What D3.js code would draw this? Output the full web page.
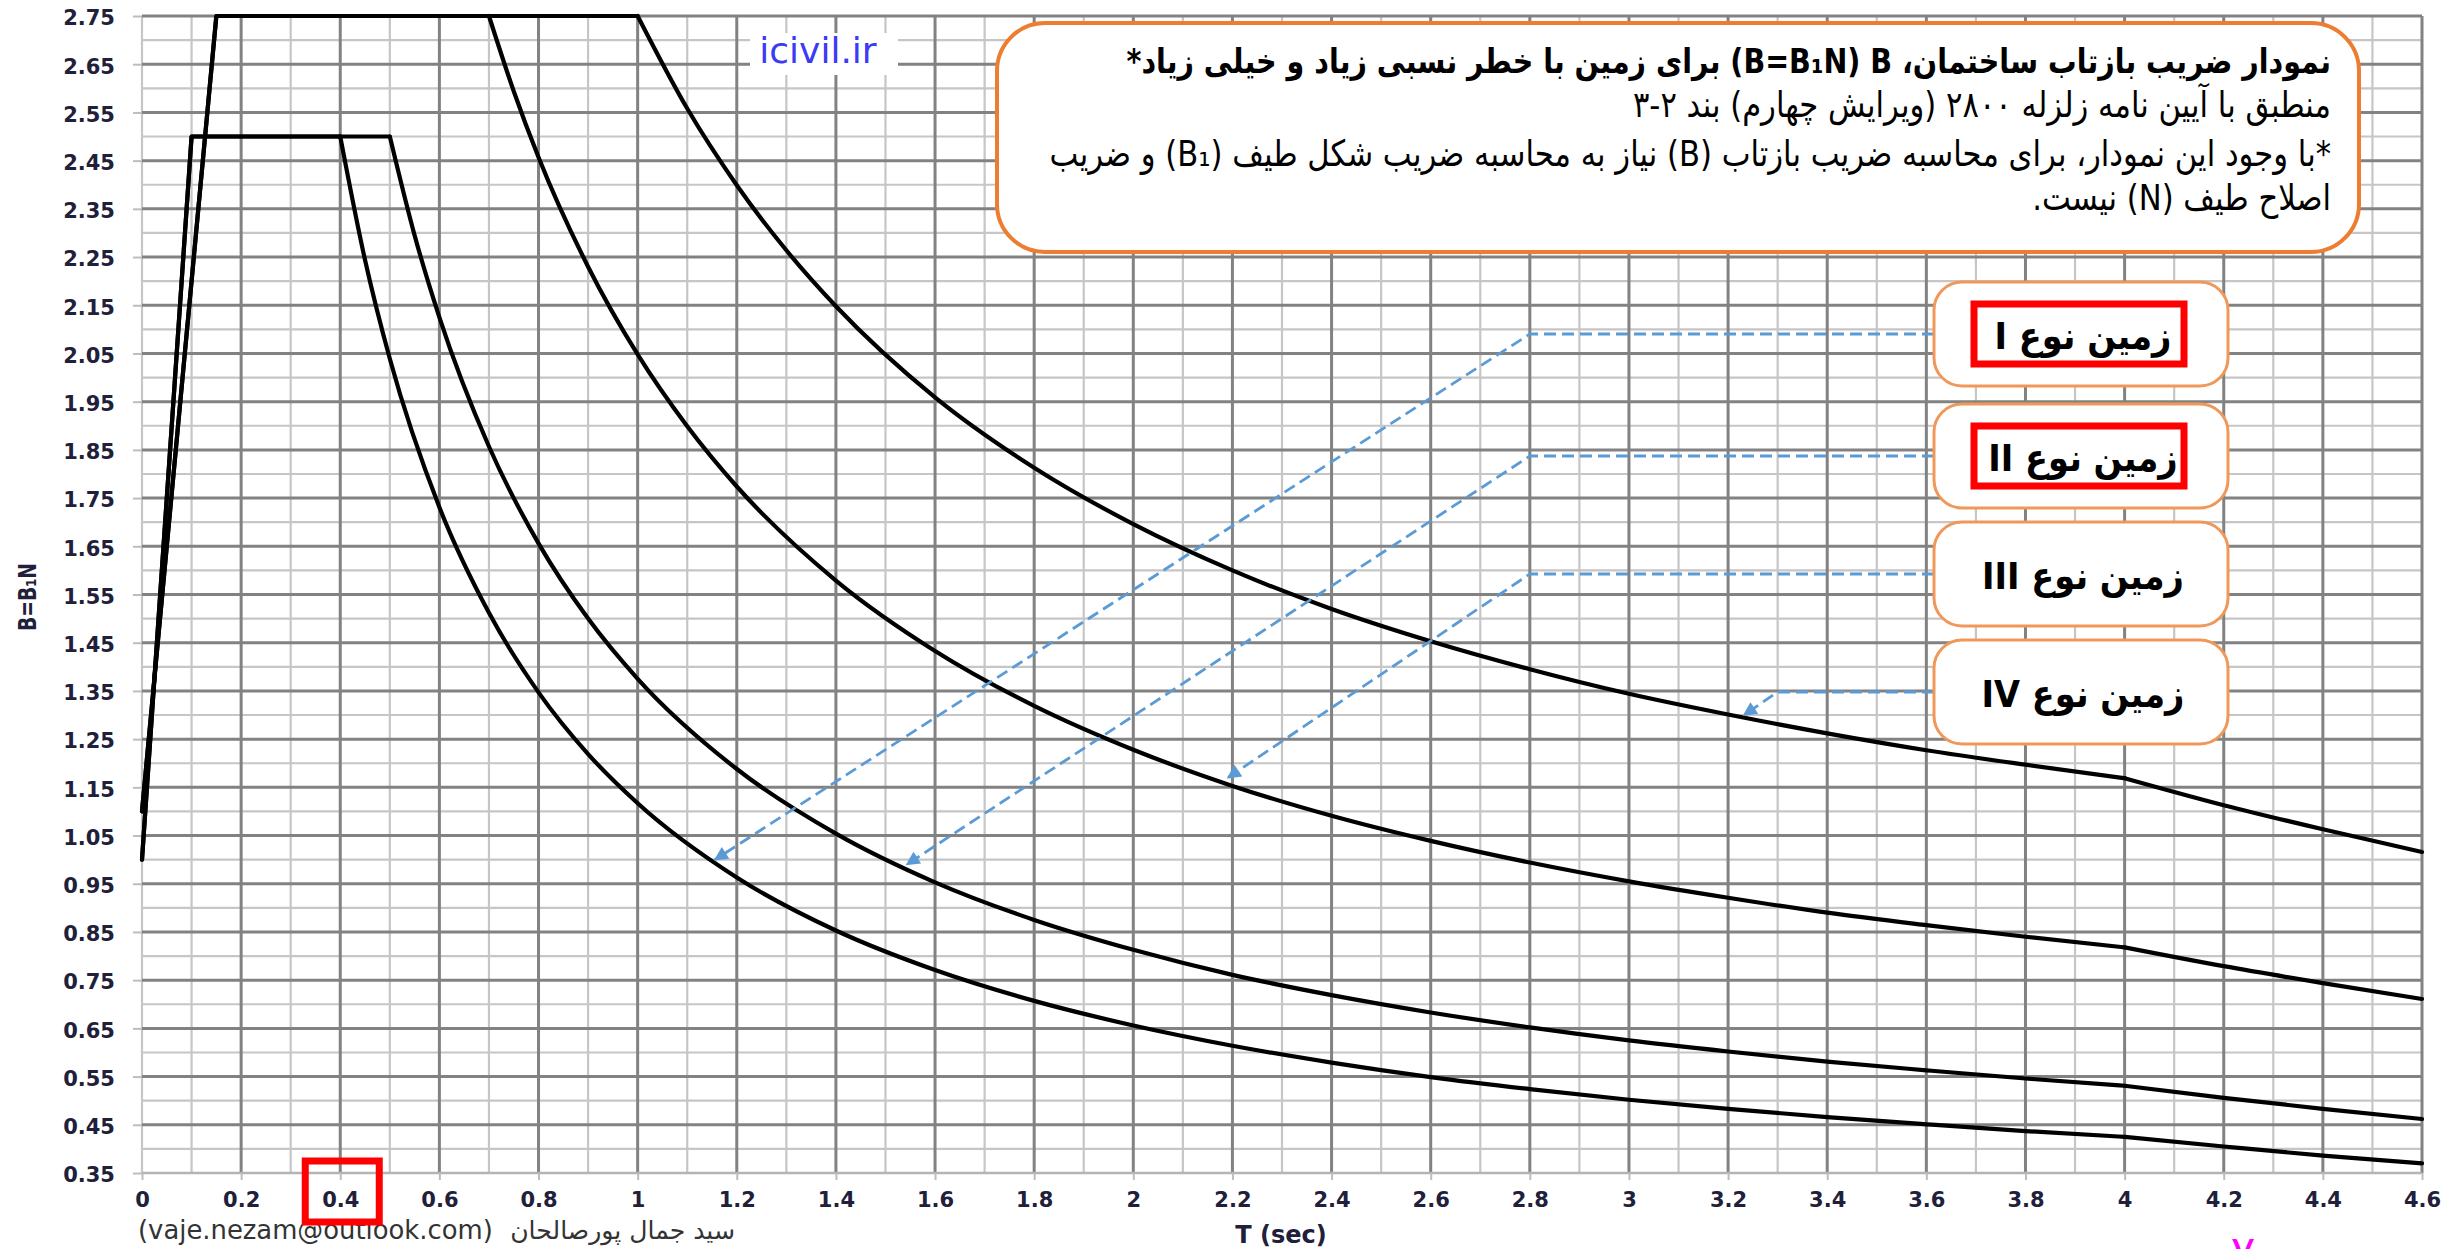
<!DOCTYPE html>
<html><head><meta charset="utf-8">
<script src="https://cdn.jsdelivr.net/npm/d3@7"></script>
<style>html,body{margin:0;padding:0;background:#fff;} svg{display:block;}</style>
</head><body>
<svg id="chart" width="2453" height="1249"></svg>
<script>
// ---------------- DATA ----------------
const T_I  = [0, 0.1, 0.4, 0.45, 0.5, 0.6, 0.7, 0.8, 0.9, 1.0, 1.2, 1.4, 1.6, 1.8, 2.0, 2.2, 2.4, 2.6, 2.8, 3.0, 3.2, 3.4, 3.6, 3.8, 4.0, 4.2, 4.4, 4.6];
const B_I  = [1.0, 2.5, 2.5, 2.244, 2.039, 1.731, 1.512, 1.347, 1.219, 1.117, 0.963, 0.853, 0.771, 0.707, 0.656, 0.614, 0.579, 0.549, 0.524, 0.502, 0.483, 0.466, 0.451, 0.437, 0.425, 0.405, 0.386, 0.370];
const T_II = [0, 0.1, 0.5, 0.55, 0.6, 0.7, 0.8, 0.9, 1.0, 1.2, 1.4, 1.6, 1.8, 2.0, 2.2, 2.4, 2.6, 2.8, 3.0, 3.2, 3.4, 3.6, 3.8, 4.0, 4.2, 4.4, 4.6];
const B_II = [1.0, 2.5, 2.5, 2.295, 2.125, 1.857, 1.656, 1.500, 1.375, 1.188, 1.054, 0.953, 0.875, 0.813, 0.761, 0.719, 0.683, 0.652, 0.625, 0.602, 0.581, 0.563, 0.546, 0.531, 0.506, 0.483, 0.462];
const T_III = [0, 0.15, 0.7, 0.75, 0.8, 0.9, 1.0, 1.1, 1.2, 1.4, 1.6, 1.8, 2.0, 2.2, 2.4, 2.6, 2.8, 3.0, 3.2, 3.4, 3.6, 3.8, 4.0, 4.2, 4.4, 4.6];
const B_III = [1.1, 2.75, 2.75, 2.594, 2.457, 2.230, 2.048, 1.899, 1.774, 1.579, 1.433, 1.319, 1.228, 1.153, 1.091, 1.039, 0.994, 0.955, 0.921, 0.890, 0.864, 0.840, 0.818, 0.779, 0.744, 0.711];
const T_IV = [0, 0.15, 1.0, 1.1, 1.2, 1.3, 1.4, 1.6, 1.8, 2.0, 2.2, 2.4, 2.6, 2.8, 3.0, 3.2, 3.4, 3.6, 3.8, 4.0, 4.2, 4.4, 4.6];
const B_IV = [1.1, 2.75, 2.75, 2.558, 2.399, 2.264, 2.148, 1.959, 1.813, 1.696, 1.600, 1.520, 1.453, 1.395, 1.344, 1.301, 1.262, 1.227, 1.197, 1.169, 1.113, 1.063, 1.016];

const xTickValues = [0, 0.2, 0.4, 0.6, 0.8, 1, 1.2, 1.4, 1.6, 1.8, 2, 2.2, 2.4, 2.6, 2.8, 3, 3.2, 3.4, 3.6, 3.8, 4, 4.2, 4.4, 4.6];
const yTickValues = [0.35, 0.45, 0.55, 0.65, 0.75, 0.85, 0.95, 1.05, 1.15, 1.25, 1.35, 1.45, 1.55, 1.65, 1.75, 1.85, 1.95, 2.05, 2.15, 2.25, 2.35, 2.45, 2.55, 2.65, 2.75];

const soilLabels = ['زمین نوع I', 'زمین نوع II', 'زمین نوع III', 'زمین نوع IV'];
// arrow tips (data coordinates) and bend T of each leader
const arrowTipT = [1.156, 1.543, 2.191, 3.232];
const arrowTipB = [1.00, 0.99, 1.17, 1.30];
const bendT = [2.8, 2.8, 2.8, 3.3];

const titleLines = [
  'نمودار ضریب بازتاب ساختمان، B\u200F (B=B₁N) برای زمین با خطر نسبی زیاد و خیلی زیاد*',
  'منطبق با آیین نامه زلزله ۲۸۰۰ (ویرایش چهارم) بند ۲-۳',
  '*با وجود این نمودار، برای محاسبه ضریب بازتاب (B) نیاز به محاسبه ضریب شکل طیف (B₁) و ضریب',
  'اصلاح طیف (N) نیست.'
];
const xTitle = 'T (sec)';
const yTitle = 'B=B₁N';
const watermark = 'icivil.ir';
const footerEmail = '(vaje.nezam@outlook.com)';
const footerName = 'سید جمال پورصالحان';

// ---------------- LAYOUT ----------------
const W = 2453, H = 1249;
const svg = d3.select('#chart');
svg.append('rect').attr('width', W).attr('height', H).attr('fill', '#fff');
const x = d3.scaleLinear().domain([0, 4.6]).range([142, 2422]);
const y = d3.scaleLinear().domain([0.35, 2.75]).range([1173, 16]);
const TXT = '#20203a';
const FONT = "'DejaVu Sans', sans-serif";

function fitWidth(node, target) {
  const fs = parseFloat(node.getAttribute('font-size'));
  const w = node.getBBox().width;
  node.setAttribute('font-size', fs * target / w);
}
function alignRight(node, xr) {
  const b = node.getBBox();
  const cur = parseFloat(node.getAttribute('x'));
  node.setAttribute('x', cur + (xr - (b.x + b.width)));
}
function alignLeft(node, xl) {
  const b = node.getBBox();
  const cur = parseFloat(node.getAttribute('x'));
  node.setAttribute('x', cur + (xl - b.x));
}
function stretchY(node, k) {
  const by = parseFloat(node.getAttribute('y'));
  node.setAttribute('transform', `translate(0,${by}) scale(1,${k}) translate(0,${-by})`);
}

// ---------------- GRID ----------------
const grid = svg.append('g');
const vLines = d3.range(0, 47).map(i => i / 10);
const hLines = d3.range(0, 49).map(j => 0.35 + j * 0.05);
const isDarkV = (t, i) => i % 2 === 0 && i > 0;
const isDarkH = (v, j) => j % 2 === 0 && j > 0;
grid.selectAll('.hl').data(hLines.filter((v, j) => !isDarkH(v, j))).join('line')
  .attr('x1', x(0)).attr('x2', x(4.6)).attr('y1', d => y(d)).attr('y2', d => y(d))
  .attr('stroke', '#c6c6c6').attr('stroke-width', 2.2);
grid.selectAll('.vl').data(vLines.filter((t, i) => !isDarkV(t, i))).join('line')
  .attr('y1', y(0.35)).attr('y2', y(2.75)).attr('x1', d => x(d)).attr('x2', d => x(d))
  .attr('stroke', '#c6c6c6').attr('stroke-width', 2.2);
grid.selectAll('.hd').data(hLines.filter((v, j) => isDarkH(v, j))).join('line')
  .attr('x1', x(0)).attr('x2', x(4.6)).attr('y1', d => y(d)).attr('y2', d => y(d))
  .attr('stroke', '#828282').attr('stroke-width', 3);
grid.selectAll('.vd').data(vLines.filter((t, i) => isDarkV(t, i))).join('line')
  .attr('y1', y(0.35)).attr('y2', y(2.75)).attr('x1', d => x(d)).attr('x2', d => x(d))
  .attr('stroke', '#828282').attr('stroke-width', 3);
grid.append('line').attr('x1', x(0)).attr('x2', x(4.6)).attr('y1', y(0.35)).attr('y2', y(0.35))
  .attr('stroke', '#b4b4b4').attr('stroke-width', 2.5);

// ---------------- AXES ----------------
const yAxis = d3.axisLeft(y).tickValues(yTickValues).tickSize(9).tickPadding(18).tickFormat(d3.format('.2f'));
const gy = svg.append('g').attr('transform', `translate(${x(0)},0)`).call(yAxis);
gy.select('.domain').remove();
gy.selectAll('.tick line').attr('stroke', '#bdbdbd').attr('stroke-width', 2);
gy.selectAll('.tick text').attr('font-family', FONT).attr('font-weight', 'bold').attr('font-size', 21)
  .attr('fill', TXT).attr('dy', '0.42em');

const xAxis = d3.axisBottom(x).tickValues(xTickValues).tickSize(7).tickPadding(12).tickFormat(d => String(+d.toFixed(1)));
const gx = svg.append('g').attr('transform', `translate(0,${y(0.35)})`).call(xAxis);
gx.select('.domain').remove();
gx.selectAll('.tick line').attr('stroke', '#bdbdbd').attr('stroke-width', 2);
gx.selectAll('.tick text').attr('font-family', FONT).attr('font-weight', 'bold').attr('font-size', 21)
  .attr('fill', TXT);

svg.append('text').attr('x', 1281).attr('y', 1243).attr('text-anchor', 'middle')
  .attr('font-family', FONT).attr('font-weight', 'bold').attr('font-size', 24).attr('fill', TXT).text(xTitle);
const yt = svg.append('text').attr('x', 0).attr('y', 0).attr('text-anchor', 'middle')
  .attr('font-family', FONT).attr('font-weight', 'bold').attr('font-size', 18).attr('fill', TXT).text(yTitle).node();
fitWidth(yt, 68);
yt.setAttribute('transform', 'translate(36,597) rotate(-90) scale(1,1.3)');

// ---------------- CURVES ----------------
const series = [[T_I, B_I], [T_II, B_II], [T_III, B_III], [T_IV, B_IV]];
const lineLin = d3.line().x(d => x(d[0])).y(d => y(d[1]));
const lineMono = d3.line().curve(d3.curveMonotoneX).x(d => x(d[0])).y(d => y(d[1]));
const cg = svg.append('g');
series.forEach(([T, B]) => {
  const pts = T.map((t, i) => [t, B[i]]);
  const i4 = T.indexOf(4.0);
  const segs = [lineLin(pts.slice(0, 3)), lineMono(pts.slice(2, i4 + 1)), lineMono(pts.slice(i4))];
  segs.forEach(d => cg.append('path').attr('d', d).attr('fill', 'none')
    .attr('stroke', '#000').attr('stroke-width', 4.2).attr('stroke-linecap', 'round').attr('stroke-linejoin', 'round'));
});

// ---------------- WATERMARK ----------------
svg.append('rect').attr('x', 750).attr('y', 33).attr('width', 148).attr('height', 42).attr('fill', '#fff');
svg.append('text').attr('x', 818).attr('y', 63).attr('text-anchor', 'middle')
  .attr('font-family', FONT).attr('font-size', 36).attr('fill', '#3b3bf5').text(watermark);

// ---------------- LEADERS + LABEL BOXES ----------------
const defs = svg.append('defs');
defs.append('marker').attr('id', 'arr').attr('viewBox', '0 0 10 10').attr('refX', 9).attr('refY', 5)
  .attr('markerWidth', 16).attr('markerHeight', 14).attr('markerUnits', 'userSpaceOnUse').attr('orient', 'auto')
  .append('path').attr('d', 'M0,0 L10,5 L0,10 z').attr('fill', '#5b9bd5');

const boxX = 1934, boxW = 294, boxH = 104;
const boxTops = [282, 404, 522, 640];
const lg = svg.append('g');
soilLabels.forEach((lab, i) => {
  const cy = boxTops[i] + boxH / 2;
  lg.append('path')
    .attr('d', `M${boxX},${cy} H${x(bendT[i])} L${x(arrowTipT[i])},${y(arrowTipB[i])}`)
    .attr('fill', 'none').attr('stroke', '#5b9bd5').attr('stroke-width', 2.8)
    .attr('stroke-dasharray', '12,6').attr('marker-end', 'url(#arr)');
});
const labelNodes = [];
soilLabels.forEach((lab, i) => {
  lg.append('rect').attr('x', boxX).attr('y', boxTops[i]).attr('width', boxW).attr('height', boxH)
    .attr('rx', 28).attr('ry', 28).attr('fill', '#fff').attr('stroke', '#f0975a').attr('stroke-width', 3);
  const t = lg.append('text').attr('x', boxX + boxW / 2 + 2).attr('y', boxTops[i] + boxH / 2 + 2)
    .attr('text-anchor', 'middle').attr('dominant-baseline', 'central').attr('direction', 'rtl')
    .attr('font-family', FONT).attr('font-weight', 'bold').attr('font-size', 30).attr('fill', '#000').text(lab);
  labelNodes.push(t.node());
});
fitWidth(labelNodes[3], 203);
const lfs = labelNodes[3].getAttribute('font-size');
labelNodes.forEach(n => { n.setAttribute('font-size', lfs); stretchY(n, 1.12); });

// ---------------- TITLE BOX ----------------
svg.append('rect').attr('x', 997).attr('y', 23).attr('width', 1362).attr('height', 229)
  .attr('rx', 48).attr('ry', 48).attr('fill', '#fff').attr('stroke', '#ed7d31').attr('stroke-width', 4);
const titleBase = [73, 117, 166, 210];
const titleNodes = titleLines.map((s, i) => svg.append('text').attr('x', 2330).attr('y', titleBase[i])
  .attr('direction', 'rtl').attr('text-anchor', 'start')
  .attr('font-family', FONT).attr('font-weight', i === 0 ? 'bold' : 'normal').attr('font-size', 24)
  .attr('fill', '#000').text(s).node());
fitWidth(titleNodes[0], 1205);
fitWidth(titleNodes[2], 1282);
const tfs = titleNodes[2].getAttribute('font-size');
titleNodes[1].setAttribute('font-size', tfs);
titleNodes[3].setAttribute('font-size', tfs);
titleNodes.forEach(n => { alignRight(n, 2331); stretchY(n, 1.18); });

// ---------------- FOOTER ----------------
const fe = svg.append('text').attr('x', 138).attr('y', 1239).attr('font-family', FONT).attr('font-size', 22)
  .attr('fill', '#333').text(footerEmail).node();
fitWidth(fe, 355); alignLeft(fe, 138);
const fn = svg.append('text').attr('x', 735).attr('y', 1239).attr('direction', 'rtl').attr('font-family', FONT)
  .attr('font-size', 22).attr('fill', '#333').text(footerName).node();
fitWidth(fn, 225); alignRight(fn, 735);

// page mark (cut at bottom edge, as in the reference)
svg.append('text').attr('x', 2243).attr('y', 1268).attr('text-anchor', 'middle').attr('font-family', FONT)
  .attr('font-size', 46).attr('fill', '#ff00ff').text('۷');

// ---------------- RED HIGHLIGHTS ----------------
const red = svg.append('g').attr('fill', 'none').attr('stroke', '#ff0000').attr('stroke-width', 7);
red.append('rect').attr('x', x(0.4) - 35).attr('y', 1161).attr('width', 74).attr('height', 61);
[0, 1].forEach(i => red.append('rect').attr('x', boxX + 40).attr('y', boxTops[i] + 22)
  .attr('width', 210).attr('height', 60));
</script>
</body></html>
